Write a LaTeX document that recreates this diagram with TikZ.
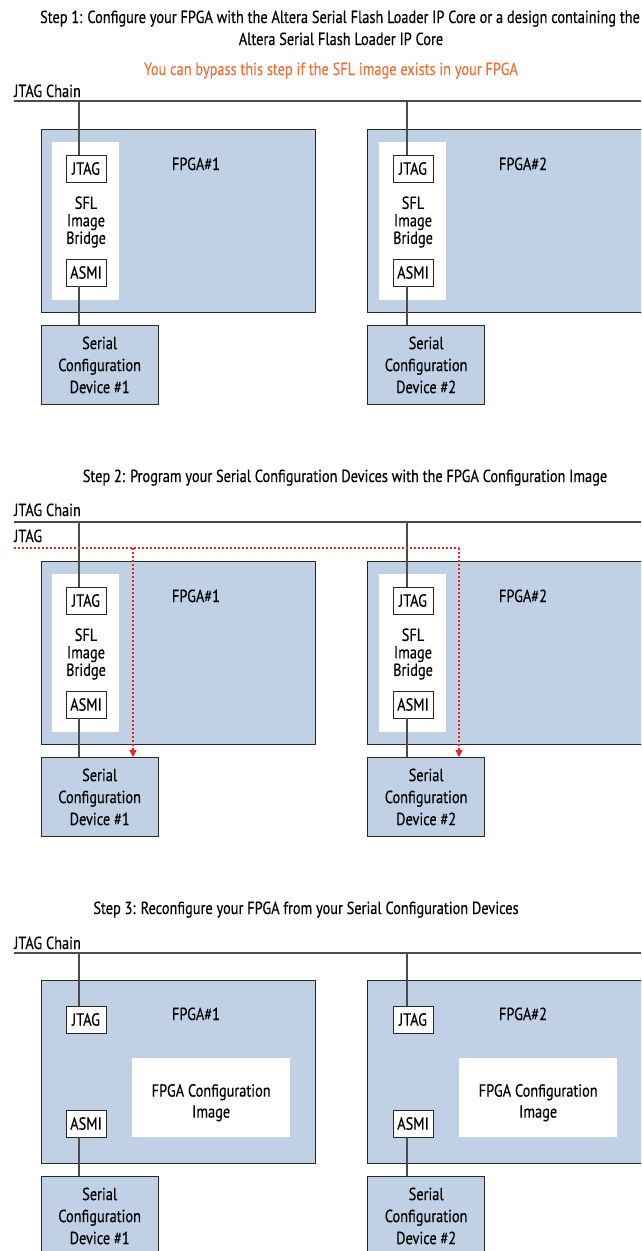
\documentclass[tikz,border=0pt]{standalone}
\usepackage{fontspec}
\setmainfont{PT Sans}[FakeStretch=0.82,FakeBold=0.35]
\usetikzlibrary{arrows.meta}
\definecolor{fpgafill}{RGB}{192,208,229}
\definecolor{notecol}{RGB}{240,112,60}
\definecolor{wirecol}{RGB}{75,75,75}
\definecolor{edgecol}{RGB}{40,40,40}
\definecolor{jtagred}{RGB}{238,32,32}

\begin{document}
\begin{tikzpicture}[x=1pt,y=-1pt,
  font=\fontsize{17.5}{17.5}\selectfont,
  blk/.style={draw=edgecol, fill=fpgafill, line width=0.9pt, inner sep=0pt, anchor=north west},
  panel/.style={fill=white, inner sep=0pt, anchor=north west},
  port/.style={draw=edgecol, fill=white, line width=0.8pt, minimum width=40pt, minimum height=27pt, inner sep=0pt},
  lbl/.style={anchor=base, inner sep=0pt},
  scdtext/.style={align=center, font=\fontsize{17.5}{22}\selectfont},
  imgtext/.style={align=center, font=\fontsize{17.5}{21}\selectfont, yshift=-5pt},
  wire/.style={draw=wirecol, line width=1.2pt},
  redpath/.style={draw=jtagred, line width=1.2pt, dash pattern=on 2pt off 2pt, -{Triangle[length=7pt,width=7pt]}},
  redline/.style={draw=jtagred, line width=1.2pt, dash pattern=on 2pt off 2pt}]

\useasboundingbox (0,0) rectangle (641,1251);
\clip (0,0) rectangle (641,1251);

% ---------------- Step 1 ----------------
\node[lbl] (t1a) at (340,23) {Step 1: Configure your FPGA with the Altera Serial Flash Loader IP Core or a design containing the};
\node[lbl] (t1b) at (341,45) {Altera Serial Flash Loader IP Core};
\node[lbl, text=notecol] (n1) at (331,75) {You can bypass this step if the SFL image exists in your FPGA};
\node[lbl, anchor=base west] (ch1) at (14,97) {JTAG Chain};
\coordinate (cl1) at (14,101);
\coordinate (cr1) at (641,101);
\coordinate (tapA1) at (79,101);
\coordinate (tapB1) at (407,101);

\node[blk, minimum width=274pt, minimum height=183pt] (fA1) at (40.7,129) {};
\node[panel, minimum width=67pt, minimum height=158pt] (pA1) at (52,142) {};
\node[port] (jA1) at (86,168.5) {JTAG};
\node[align=center] (bA1) at (86,222) {SFL\\Image\\Bridge};
\node[port] (aA1) at (86,272.5) {ASMI};
\node[lbl] (lA1) at (196,170) {FPGA\#1};
\node[blk, minimum width=117pt, minimum height=79pt] (sA1) at (40.7,325) {};
\node[scdtext] at (sA1.center) {Serial\\Configuration\\Device \#1};

\node[blk, minimum width=340pt, minimum height=183pt] (fB1) at (367.2,129) {};
\node[panel, minimum width=67pt, minimum height=158pt] (pB1) at (379,142) {};
\node[port] (jB1) at (413,168.5) {JTAG};
\node[align=center] (bB1) at (413,222) {SFL\\Image\\Bridge};
\node[port] (aB1) at (413,272.5) {ASMI};
\node[lbl] (lB1) at (523,170) {FPGA\#2};
\node[blk, minimum width=117pt, minimum height=79pt] (sB1) at (367.2,325) {};
\node[scdtext] at (sB1.center) {Serial\\Configuration\\Device \#2};

\draw[wire] (cl1) -- (cr1);
\draw[wire] (tapA1) -- (tapA1 |- jA1.north);
\draw[wire] (tapA1 |- aA1.south) -- (tapA1 |- sA1.north);
\draw[wire] (tapB1) -- (tapB1 |- jB1.north);
\draw[wire] (tapB1 |- aB1.south) -- (tapB1 |- sB1.north);

% ---------------- Step 2 ----------------
\node[lbl] (t2) at (345,482) {Step 2: Program your Serial Configuration Devices with the FPGA Configuration Image};
\node[lbl, anchor=base west] (ch2) at (14,516) {JTAG Chain};
\node[lbl, anchor=base west] (jt2) at (14,542) {JTAG};
\coordinate (cl2) at (14,522);
\coordinate (cr2) at (641,522);
\coordinate (tapA2) at (79,522);
\coordinate (tapB2) at (407,522);
\coordinate (rl2) at (14,548);
\coordinate (rk1) at (133,548);
\coordinate (rk2) at (459,548);

\node[blk, minimum width=274pt, minimum height=183pt] (fA2) at (40.7,561) {};
\node[panel, minimum width=67pt, minimum height=158pt] (pA2) at (52,574) {};
\node[port] (jA2) at (86,600.5) {JTAG};
\node[align=center] (bA2) at (86,654) {SFL\\Image\\Bridge};
\node[port] (aA2) at (86,704.5) {ASMI};
\node[lbl] (lA2) at (196,602) {FPGA\#1};
\node[blk, minimum width=117pt, minimum height=79pt] (sA2) at (40.7,757) {};
\node[scdtext] at (sA2.center) {Serial\\Configuration\\Device \#1};

\node[blk, minimum width=340pt, minimum height=183pt] (fB2) at (367.2,561) {};
\node[panel, minimum width=67pt, minimum height=158pt] (pB2) at (379,574) {};
\node[port] (jB2) at (413,600.5) {JTAG};
\node[align=center] (bB2) at (413,654) {SFL\\Image\\Bridge};
\node[port] (aB2) at (413,704.5) {ASMI};
\node[lbl] (lB2) at (523,602) {FPGA\#2};
\node[blk, minimum width=117pt, minimum height=79pt] (sB2) at (367.2,757) {};
\node[scdtext] at (sB2.center) {Serial\\Configuration\\Device \#2};

\draw[wire] (cl2) -- (cr2);
\draw[wire] (tapA2) -- (tapA2 |- jA2.north);
\draw[wire] (tapA2 |- aA2.south) -- (tapA2 |- sA2.north);
\draw[wire] (tapB2) -- (tapB2 |- jB2.north);
\draw[wire] (tapB2 |- aB2.south) -- (tapB2 |- sB2.north);

% JTAG programming path to the serial configuration devices
\draw[redline] (rl2) -- (rk2);
\draw[redpath] (rk1) -- (rk1 |- sA2.north);
\draw[redpath] (rk2) -- (rk2 |- sB2.north);

% ---------------- Step 3 ----------------
\node[lbl] (t3) at (306,914) {Step 3: Reconfigure your FPGA from your Serial Configuration Devices};
\node[lbl, anchor=base west] (ch3) at (14,949) {JTAG Chain};
\coordinate (cl3) at (14,953);
\coordinate (cr3) at (641,953);
\coordinate (tapA3) at (79,953);
\coordinate (tapB3) at (407,953);

\node[blk, minimum width=274pt, minimum height=183pt] (fA3) at (40.7,980) {};
\node[port] (jA3) at (86,1019.5) {JTAG};
\node[port] (aA3) at (86,1123.5) {ASMI};
\node[lbl] (lA3) at (196,1020) {FPGA\#1};
\node[panel, minimum width=158pt, minimum height=79pt] (iA3) at (132,1058) {};
\node[imgtext] at (iA3.center) {FPGA Configuration\\Image};
\node[blk, minimum width=117pt, minimum height=79pt] (sA3) at (40.7,1176) {};
\node[scdtext] at (sA3.center) {Serial\\Configuration\\Device \#1};

\node[blk, minimum width=340pt, minimum height=183pt] (fB3) at (367.2,980) {};
\node[port] (jB3) at (413,1019.5) {JTAG};
\node[port] (aB3) at (413,1123.5) {ASMI};
\node[lbl] (lB3) at (523,1020) {FPGA\#2};
\node[panel, minimum width=158pt, minimum height=79pt] (iB3) at (459,1058) {};
\node[imgtext] at (iB3.center) {FPGA Configuration\\Image};
\node[blk, minimum width=117pt, minimum height=79pt] (sB3) at (367.2,1176) {};
\node[scdtext] at (sB3.center) {Serial\\Configuration\\Device \#2};

\draw[wire] (cl3) -- (cr3);
\draw[wire] (tapA3) -- (tapA3 |- jA3.north);
\draw[wire] (tapA3 |- aA3.south) -- (tapA3 |- sA3.north);
\draw[wire] (tapB3) -- (tapB3 |- jB3.north);
\draw[wire] (tapB3 |- aB3.south) -- (tapB3 |- sB3.north);

\end{tikzpicture}
\end{document}
